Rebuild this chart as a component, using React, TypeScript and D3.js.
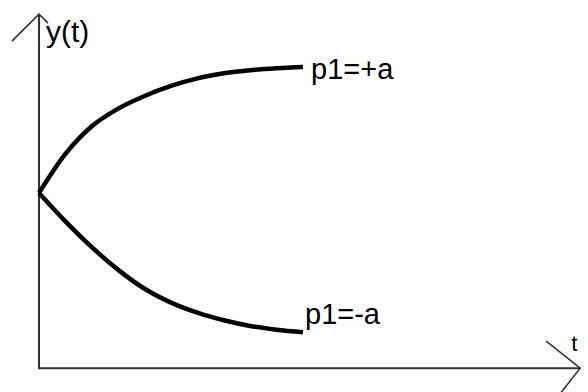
import React from "react";
import * as d3 from "d3";

const W = 588;
const H = 392;

// time samples
const tValues = [0, 0.5, 1, 1.5, 2, 2.5, 3, 3.5, 4, 4.5, 5];
// response for p1 = +a
const upperValues = [0, 0.31, 0.53, 0.67, 0.77, 0.85, 0.91, 0.95, 0.975, 0.99, 1.0];
// response for p1 = -a
const lowerValues = [0, -0.225, -0.43, -0.61, -0.76, -0.87, -0.95, -1.01, -1.055, -1.085, -1.105];

const seriesLabels = ["p1=+a", "p1=-a"];
const yAxisLabel = "y(t)";
const xAxisLabel = "t";

// axis extents in data units
const tAxisMax = 10.25;
const yAxisTop = 1.42;
const yAxisBottom = -1.39;

const FONT = "'Liberation Sans', Arial, sans-serif";

export default function App() {
  const x = d3.scaleLinear().domain([0, 5]).range([39, 303]);
  const y = d3.scaleLinear().domain([0, 1]).range([193, 67]);

  const line = d3
    .line<[number, number]>()
    .x((d) => x(d[0]))
    .y((d) => y(d[1]))
    .curve(d3.curveMonotoneX);

  const upper = tValues.map((t, i) => [t, upperValues[i]] as [number, number]);
  const lower = tValues.map((t, i) => [t, lowerValues[i]] as [number, number]);

  const x0 = x(0);
  const yTop = y(yAxisTop);
  const yBot = y(yAxisBottom);
  const xEnd = x(tAxisMax);

  const upperEnd = upper[upper.length - 1];
  const lowerEnd = lower[lower.length - 1];

  return (
    <svg
      width={W}
      height={H}
      style={{ position: "absolute", left: 0, top: 0, background: "#fff" }}
    >
      <rect width={W} height={H} fill="#fff" />
      {/* axes */}
      <g stroke="#333" strokeWidth={2} fill="none">
        <path d={`M${x0},${yTop}V${yBot}H${xEnd}`} />
        {/* y arrow */}
        <path d={`M${x0 - 27},${yTop + 27}L${x0},${yTop}L${x0 + 9},${yTop + 9}`} strokeWidth={1.6} />
        {/* x arrow */}
        <path d={`M${xEnd - 34},${yBot - 27}L${xEnd},${yBot}L${xEnd - 22},${yBot + 28}`} strokeWidth={1.6} />
      </g>
      {/* curves */}
      <path d={line(upper) || ""} fill="none" stroke="#000" strokeWidth={4.5} strokeLinejoin="round" />
      <path d={line(lower) || ""} fill="none" stroke="#000" strokeWidth={4.5} strokeLinejoin="round" />
      {/* labels */}
      <g fontFamily={FONT} fill="#000">
        <text x={x0 + 7} y={42} fontSize={30}>{yAxisLabel}</text>
        <text x={xEnd - 9} y={351} fontSize={22}>{xAxisLabel}</text>
        <text x={x(upperEnd[0]) + 8} y={y(upperEnd[1]) + 12} fontSize={29}>{seriesLabels[0]}</text>
        <text x={x(lowerEnd[0]) + 2} y={y(lowerEnd[1]) - 8} fontSize={29}>{seriesLabels[1]}</text>
      </g>
    </svg>
  );
}
